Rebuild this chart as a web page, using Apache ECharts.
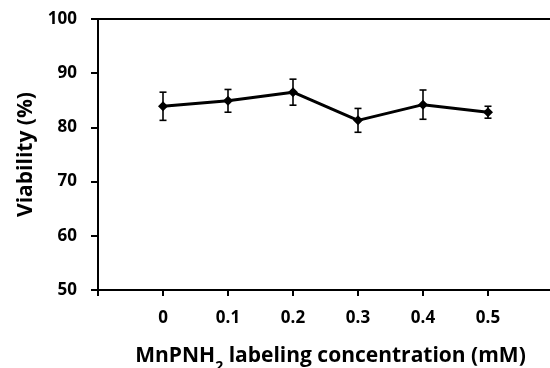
<!DOCTYPE html>
<html><head><meta charset="utf-8">
<script src="https://cdn.jsdelivr.net/npm/echarts@6/dist/echarts.min.js"></script>
<style>html,body{margin:0;padding:0;background:#fff}#c{width:550px;height:368px}</style>
</head><body><div id="c"></div>
<script>
const concentrations = [0, 0.1, 0.2, 0.3, 0.4, 0.5];
const viability = [83.9, 84.9, 86.5, 81.3, 84.2, 82.8];
const errors = [2.6, 2.1, 2.4, 2.2, 2.7, 1.1];
const yTicks = [50, 60, 70, 80, 90, 100];

const FONT = '"Open Sans", sans-serif';
const chart = echarts.init(document.getElementById('c'), null, {renderer: 'canvas'});
const lineData = concentrations.map((c, i) => [c, viability[i]]);
const errData = concentrations.map((c, i) => [c, viability[i] - errors[i], viability[i] + errors[i]]);

chart.setOption({
  animation: false,
  backgroundColor: '#fff',
  grid: {left: 98, top: 19, width: 455, height: 271, containLabel: false, outerBoundsMode: 'none'},
  xAxis: [{
    type: 'value', min: -0.1, max: 0.6, interval: 0.1,
    name: 'MnPNH{sub|2} labeling concentration (mM)',
    nameLocation: 'middle', nameGap: 56,
    nameTextStyle: {fontFamily: FONT, fontWeight: 'bold', fontSize: 21, color: '#000', padding: [0, 0, 0, 10],
      rich: {sub: {fontFamily: FONT, fontWeight: 'bold', fontSize: 14, color: '#000', verticalAlign: 'bottom', padding: [0,0,-7,0]}}},
    axisLine: {lineStyle: {color: '#000', width: 2}},
    axisTick: {show: true, length: 6, lineStyle: {color: '#000', width: 2}},
    splitLine: {show: false},
    axisLabel: {margin: 20, fontFamily: FONT, fontWeight: 'bold', fontSize: 17, color: '#000',
      formatter: v => (v < -0.01 || v > 0.55) ? '' : String(+v.toFixed(1))}
  }, {
    type: 'value', min: -0.1, max: 0.6, position: 'top',
    axisLine: {show: true, onZero: false, lineStyle: {color: '#000', width: 2}},
    axisTick: {show: false}, axisLabel: {show: false}, splitLine: {show: false}
  }],
  yAxis: {
    type: 'value', min: yTicks[0], max: yTicks[yTicks.length - 1], interval: 10,
    name: 'Viability (%)', nameLocation: 'middle', nameGap: 60,
    nameTextStyle: {fontFamily: FONT, fontWeight: 'bold', fontSize: 21, color: '#000'},
    axisLine: {show: true, onZero: false, lineStyle: {color: '#000', width: 2}},
    axisTick: {show: true, length: 7, lineStyle: {color: '#000', width: 2}},
    splitLine: {show: false},
    axisLabel: {margin: 21, fontFamily: FONT, fontWeight: 'bold', fontSize: 17, color: '#000'}
  },
  series: [{
    type: 'custom',
    data: errData,
    z: 3,
    renderItem: (params, api) => {
      const x = api.value(0);
      const lo = api.coord([x, api.value(1)]);
      const hi = api.coord([x, api.value(2)]);
      const cap = 3.5;
      const st = {stroke: '#000', lineWidth: 1.6};
      return {type: 'group', children: [
        {type: 'line', shape: {x1: lo[0], y1: lo[1], x2: hi[0], y2: hi[1]}, style: st},
        {type: 'line', shape: {x1: lo[0]-cap, y1: lo[1], x2: lo[0]+cap, y2: lo[1]}, style: st},
        {type: 'line', shape: {x1: hi[0]-cap, y1: hi[1], x2: hi[0]+cap, y2: hi[1]}, style: st}
      ]};
    }
  }, {
    type: 'line',
    data: lineData,
    z: 4,
    symbol: 'diamond', symbolSize: 10,
    itemStyle: {color: '#000'},
    lineStyle: {color: '#000', width: 3}
  }]
});
</script></body></html>
